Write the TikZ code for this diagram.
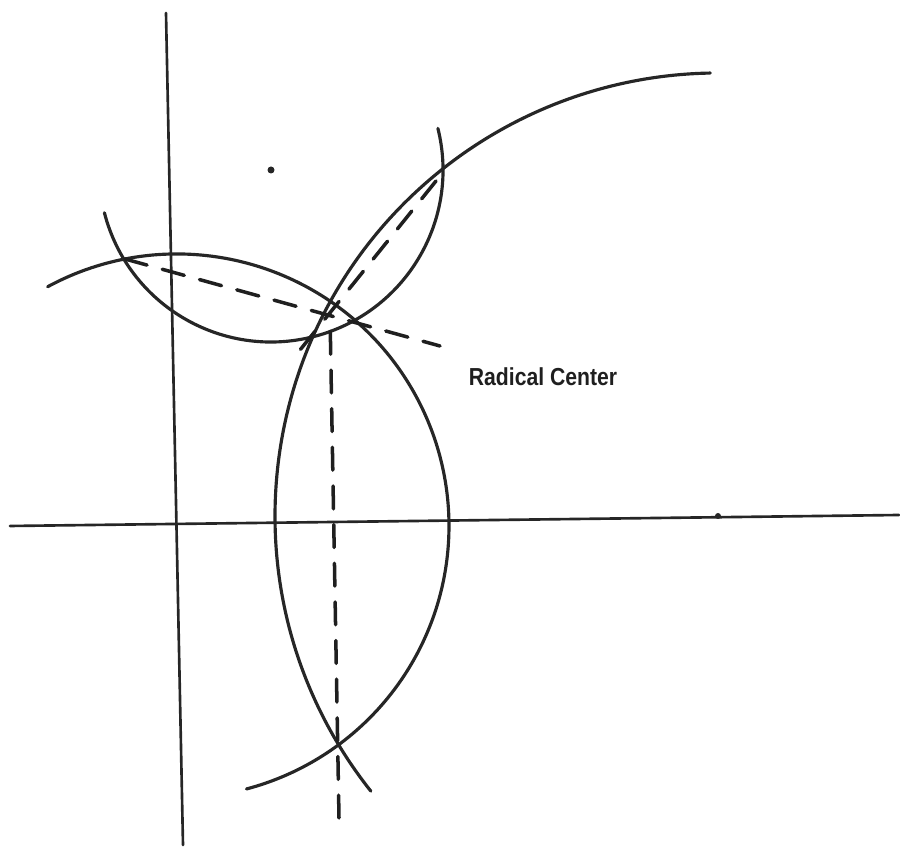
\documentclass[tikz,border=0pt]{standalone}
\usepackage{fontspec}
\newfontfamily\labelfont{Liberation Sans}
\usetikzlibrary{calc,positioning}
\tikzset{
  arcline/.style={line width=1.8pt,black!85},
  axisline/.style={line width=1.5pt,black!85},
  radaxis/.style={line width=2pt,black!88,dash pattern=on 13pt off 9pt},
}

\begin{document}
\begin{tikzpicture}[x=0.02cm,y=0.02cm,line cap=round]
      \useasboundingbox (0,0) rectangle (900,848);
      % axes (slightly tilted, as drawn by hand)
      \coordinate (ytop) at (166,835);
      \coordinate (ybot) at (183,3);
      \coordinate (xleft) at (10,322);
      \coordinate (xright) at (899,333);
      \draw[axisline] (ytop) -- (ybot);
      \draw[axisline] (xleft) -- (xright);
      % centres of the three circles
      \coordinate (cO) at (177,322);
      \coordinate (cP) at (271,678);
      \coordinate (cQ) at (718,332);
      \fill[black!85] (cP) circle (3.5);
      \fill[black!85] (cQ) circle (3);
      % the three circle arcs
      \draw[arcline] ($(cO)+(118.4:272)$) arc[start angle=118.4,end angle=-75.2,radius=272];
      \draw[arcline] ($(cP)+(194.4:172)$) arc[start angle=194.4,end angle=374,radius=172];
      \draw[arcline] ($(cQ)+(218.4:443)$) arc[start angle=218.4,end angle=91,radius=443];
      % radical axes, meeting in the radical centre
      \coordinate (rc) at (330,534);
      \coordinate (opA) at (125,589);
      \coordinate (opB) at (440,502);
      \coordinate (oqB) at (339,30);
      \coordinate (pqA) at (436,667);
      \coordinate (pqB) at (300,498);
      \draw[radaxis] (opA) -- (opB);
      \draw[radaxis] (oqB) -- (rc);
      \draw[radaxis] (pqA) -- (pqB);
      \node[font=\labelfont\bfseries\fontsize{14}{16}\selectfont,xscale=0.86,
            black!88] (rclabel) at (543,471) {Radical Center};
    \end{tikzpicture}
\end{document}
